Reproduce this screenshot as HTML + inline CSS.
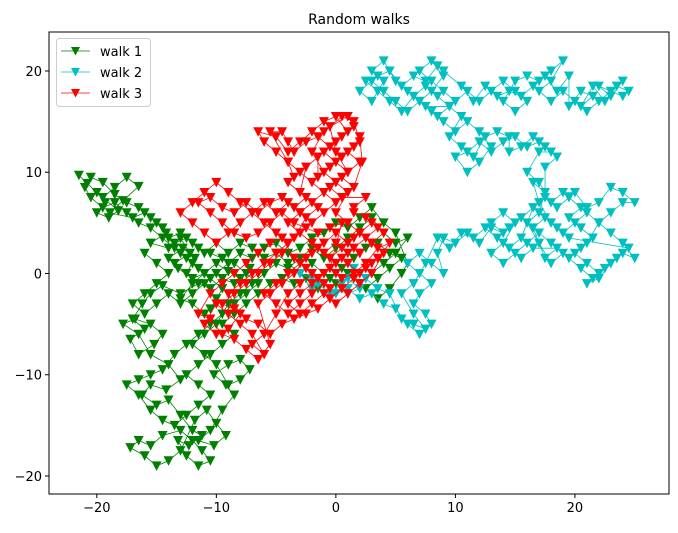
<!DOCTYPE html>
<html><head><meta charset="utf-8"><style>
body{margin:0;background:#fff;}
svg text{font-family:"DejaVu Sans","Liberation Sans",sans-serif;}
</style></head><body>
<svg id="chart" width="678" height="528" xmlns="http://www.w3.org/2000/svg">
<rect width="678" height="528" fill="#fff"/>
<text x="359" y="24" font-size="14" text-anchor="middle">Random walks</text>
<g id="plot"></g>
</svg>
<script>
const walk1 = [[-21.5,9.7],[-20.8,8.9],[-20,8],[-19.3,7],[-20,6],[-19,5.5],[-18.2,6.2],[-19.5,7.5],[-18.5,8.5],[-17.5,9.5],[-16.5,8.6],[-17.8,7.2],[-18.9,6],[-17,5.5],[-16,6],[-15,5],[-14.2,4],[-15.5,3],[-14,2.5],[-13,3.5],[-12.2,2],[-13.5,1],[-12.5,0],[-11.8,1.5],[-12.8,2.5],[-14,1.5],[-13.2,0.5],[-12,-0.5],[-11,0],[-10,1],[-9,0.2],[-8,-0.5],[-7.2,0.5],[-8.5,-1],[-9.5,-0.5],[-10.5,-1.5],[-11.5,-1],[-13,-2],[-14.5,-1.2],[-15.5,-2],[-16.2,-3],[-17,-4.5],[-16,-5.5],[-17.2,-6.5],[-16.5,-8],[-15.2,-7],[-14.5,-6],[-15.5,-5],[-16.8,-4.5],[-17.8,-5],[-16.5,-6],[-15.5,-8],[-14,-9],[-13,-10.5],[-14.2,-11.5],[-15.5,-11],[-16.2,-12],[-15,-13],[-14,-12.5],[-13,-14],[-12,-15.5],[-11.2,-16],[-12.3,-17],[-13.2,-16.5],[-12.5,-18],[-11.5,-19],[-10.5,-18.5],[-11.2,-17.5],[-12,-16.5],[-13,-15.5],[-14.5,-16],[-15.5,-17],[-16.5,-16.5],[-17.2,-17.2],[-16,-18],[-15,-19],[-14,-18.5],[-13,-17.5],[-11.8,-14.5],[-10.8,-13.5],[-10,-14.8],[-9.2,-16],[-10.2,-17],[-11.5,-16.5],[-10.5,-15.5],[-9.5,-13.5],[-8.5,-12],[-9.2,-11],[-10.2,-10],[-9,-9],[-8,-8.5],[-7.2,-9.5],[-8,-10.5],[-9,-11],[-10,-9],[-11,-8],[-12,-7],[-11,-6],[-10,-5],[-9,-3],[-8,-2],[-7,-1],[-6,0],[-5,1],[-4,0.5],[-3,1.5],[-2,2.5],[-1,1.5],[0,2.5],[1,3.5],[2,4.5],[3,5.5],[4,4],[5,3],[6,3.5],[5,2],[4,1],[3,0],[2,-1],[1,0],[0,-1],[-1,0],[-2,1],[-3,0],[-4,1],[-5,2],[-6,1.5],[-7,2.5],[-8,3],[-9,2],[-10,3],[-11,2],[-12,3],[-13,4],[-14,3.5],[-13,2],[-12,1],[-11,0],[-12,-1],[-13,-2.5],[-12,-3],[-11,-4],
[-10.5,-3.5],[-10,-2.5],[-9.5,-1.5],[-10.5,-0.5],[-11.5,0.5],[-12.5,1.5],[-13.5,2.5],[-14.5,3.5],[-15.5,4.5],[-16.5,5],[-17.5,6],[-18.5,7],[-19.5,6.5],[-20.5,7.5],[-21,8.5],[-20.5,9.5],[-19.5,9],[-18.5,7.8],[-17.5,7],[-16.5,6.5],[-15.5,5.5],[-14.5,4.5],[-13.5,3],[-12.5,3.5],[-11.5,2.5],[-10.5,2],[-9.5,1.5],[-8.5,1],[-7.5,0],[-6.5,-1],[-7.5,-2],[-8.5,-3],[-9.5,-4],[-10.5,-5],[-11.5,-6],[-12.5,-7],[-13.5,-8],[-14.5,-9.5],[-15.5,-10],[-16.5,-10.5],[-17.5,-11],[-16.5,-12],[-15.5,-13.5],[-14.5,-14.5],[-13.5,-15],[-12.5,-14],[-11.5,-13],[-10.5,-12],[-11.5,-11],[-12.5,-10],[-11.5,-9],[-10.5,-8],[-9.5,-7],[-8.5,-6],[-9.5,-5],[-8.5,-4],[-7.5,-3],[-6.5,-2],[-5.5,-1],[-4.5,-0.5],[-3.5,-1],[-2.5,-0.5],[-1.5,-1.5],[-0.5,-0.5],[0.5,0.5],[1.5,1.5],[2.5,2.5],[3.5,3],[4.5,2],[5.5,1.5],[4.5,0.5],[3.5,-0.5],[2.5,-1.5],[3.5,-2.5],[4.5,-1.5],[5.5,0],[6,1],[5,4],[4,5],[3,6.5],[2,5.5],[1,4.5],[0,5],[-1,4],[-2,3.5],[-3,2.5],[-4,2],[-5,3],[-6,2.5],[-7,1.5],[-8,2],[-9,1],[-10,0],[-11,-1],[-12,-2],[-13,-3],[-14,-2],[-15,-3],[-16,-4],[-17,-3],[-16,-2],[-15,-1],[-14,0],[-15,1],[-16,2]];
const walk2 = [[0,0],[1,-0.5],[2,-1.5],[1,-2],[-1,-1],[-2,-0.5],[-3,0],[-2,-1.5],[0,-2],[1,-1.5],[2,-2.5],[3,-2],[4,-3],[5,-3.5],[6,-5],[7,-6],[8,-5],[7.5,-4],[6.5,-3],[7,-2],[8,-1],[7,0],[6,1],[7,2],[8,1],[9,0],[8.5,2],[9,3.5],[10,3],[11,4],[12,3],[13,4.5],[14,4],[13,5],[14,6],[15,5],[14,3],[13,2],[14,1],[15,2],[16,3],[17,4],[18,3],[19,2],[18,1],[17,3],[16,5],[17,6],[17.5,8],[16.5,9],[17,7],[18,5],[19,4],[20,5],[21,6],[22,5],[21,3],[20,2],[21,1],[22,0],[21,-1],[22,-0.5],[23,1],[24,2],[25,1.5],[24,3],[23,4],[22,5],[23,6],[24,7],[25,7],[24,8],[23,8.5],[22,7],[21,6.5],[20,8],[19,8],[18,7],[17,9],[16,10],[17,12],[18,12],[17,13],[16,12.5],[15,13.5],[14,13],[13,12],[12,13],[11,12],[10,11.5],[11,10],[12,11],[13,12.5],[12,14],[11,15],[10,14],[9,15],[8,16],[7,17],[6,16],[5,17],[4,18],[3,19],[2,18],[3,17],[4,19],[3,20],[4,21],[5,19],[6,18],[7,17],[8,18],[9,19.5],[8,21],[7,20],[8,19],[9,18],[10,17],[11,18],[12,17],[13,18],[14,19],[15,18],[16,17],[15,16],[14,17],[15,19],[16,19.5],[17,19],[18,20],[19,21],[18,19],[17,18],[18,17],[19,18],[20,17],[21,16],[22,17],[23,18],[24,19],[23,17.5],[22,18.5],[24,17.5],
[24.5,18],[23.5,18.5],[22.5,17],[21.5,18.5],[20.5,16.5],[21.5,17.5],[20.5,18],[19.5,16.5],[19.5,19.5],[18.5,18],[17.5,19.5],[16.5,18.5],[15.5,17.5],[14.5,18],[13.5,17.5],[12.5,18.5],[11.5,17],[10.5,18.5],[9,20],[8.5,20.5],[7.5,19],[6.5,19.5],[5.5,18.5],[4.5,20],[3.5,19.5],[2.5,19],[3.5,18],[4.5,17],[5.5,16],[6.5,17.5],[7.5,18.5],[8.5,17.5],[9.5,16.5],[8.5,15.5],[7.5,16.5],[9.5,16.5],[10.5,15.5],[9.5,13.5],[10.5,12.5],[11.5,11.5],[12.5,13.5],[13.5,14],[14.5,13.5],[14.5,12],[15.5,12.5],[16.5,13.5],[17.5,12.5],[18.5,11.5],[17.5,10.5],[17.5,7.5],[18.5,6.5],[19.5,7.5],[20.5,6.5],[19.5,5.5],[20.5,4.5],[21.5,3.5],[20.5,2.5],[19.5,1.5],[20.5,0.5],[21.5,-0.5],[22.5,0.5],[23.5,1.5],[24.5,2.5],[19.5,3.5],[18.5,4.5],[17.5,5.5],[16.5,4.5],[17.5,1.5],[18.5,2.5],[16.5,2.5],[15.5,1.5],[14.5,2.5],[15.5,3.5],[16.5,6.5],[15.5,5.5],[14.5,4.5],[13.5,3.5],[12.5,4.5],[11.5,3.5],[10.5,4],[9.5,2.5],[8.5,3.5],[7.5,1],[6.5,-1],[5.5,-2],[6.5,-4],[7.5,-5.5],[6.5,-5],[5.5,-4.5],[4.5,-2],[3.5,-1.5],[2.5,-0.5],[1.5,0.5],[0.5,-1],[-0.5,-2],[-1.5,-1]];
const walk3 = [[0,0],[1,1],[2,2],[3,3],[4,4],[3,5],[2,4],[1,3],[0,4],[-1,3],[-2,2],[-3,1],[-4,0],[-5,-1],[-6,-2],[-5,-3],[-4,-4],[-3,-3],[-2,-2],[-1,-1],[-2,0],[-3,-1],[-4,-2],[-5,-4],[-6,-6],[-7,-7],[-6,-8],[-7,-6],[-8,-5],[-9,-4],[-10,-3],[-11,-5],[-10,-6],[-9,-5.5],[-8,-4],[-9,-2],[-8,-1],[-7,0],[-6,1],[-5,2],[-4,3],[-5,4],[-6,5],[-7,6],[-8,5],[-9,4],[-10,3],[-11,4],[-12,5],[-13,6],[-12,7],[-11,8],[-10,9],[-9,8],[-8,7],[-7,6],[-6,7],[-5,6],[-4,7],[-3,6],[-2,5],[-1,6],[0,7],[-1,8],[-2,9],[-3,10],[-4,11],[-5,12],[-6,13],[-6.5,14],[-5,13.5],[-4,12],[-3,13],[-2,14],[-1,15],[0,15.5],[1,14],[0,13],[-1,12],[0,11],[1,10],[2,11],[1,12],[2,13],[1.5,15],[0.5,15.5],[-1,14],[-2,12],[-1,10],[0,9],[1,8],[0,6],[1,5],[2,4],[3,3],[2,2],[1,1],[2,0],[3,1],[4,2],[3,0],[2,-1],[1,-2],[0,-3],[-1,-2],[-2,-3],[-3,-4],[-4,-3],[-3,-2],[-2,-1],[-1,0],[0,1],[1,2],[0,3],[-1,2],[-2,3],[-3,4],[-4,5],[-3,6],[-2,7],[-1,8],[0,9],[1,10],[0,12],
[-0.5,14.5],[1,15.5],[1.5,14.5],[0.5,13.5],[-0.5,12.5],[-1.5,13.5],[-2.5,13],[-3.5,12],[-4,13],[-4.5,14],[-5.5,14],[-4,11],[-3.5,9.5],[-4,9],[-3,8],[-2.5,10.5],[-1.5,11.5],[-1.5,9.5],[-0.5,10.5],[0.5,11.5],[1.5,12.5],[2,13.5],[2.2,11],[1.5,8.5],[0.5,9.5],[-0.5,8.5],[0.5,7.5],[2.5,7.5],[1.5,6.5],[1.5,6],[2.5,5.5],[3.5,4.5],[2.5,3.5],[1.5,2.5],[0.5,1.5],[-0.5,0.5],[0.5,5],[-0.5,4.5],[-1.5,4],[-2.5,4.5],[-3.5,5],[-4.5,6],[-5.5,5],[-6.5,4],[-7.5,3.5],[-8.5,4],[-9.5,5],[-10.5,6],[-11.5,7],[-10.5,7.5],[-9.5,6.5],[-8.5,6],[-7.5,7],[-6.5,6],[-5.5,7],[-4.5,7.5],[-3.5,6.5],[-2.5,7.5],[-1.5,6.5],[-2.5,5.5],[-3.5,3.5],[-4.5,2],[-5.5,1],[-6.5,0],[-7.5,-1],[-8.5,-2],[-9.5,-3],[-8.5,-3.5],[-7.5,-4.5],[-6.5,-5],[-5.5,-6],[-4.5,-5],[-3.5,-4.5],[-2.5,-4],[-1.5,-3.5],[-0.5,-2.5],[0.5,-1.5],[1.5,-0.5],[2.5,0.5],[3.5,1.5],[4.5,3],[3.5,2.5],[2.5,1],[1.5,0],[0.5,-0.5],[-0.5,-1.5],[-1.5,-0.5],[-2.5,0.5],[-3.5,1.5],[-4.5,3.5],[-5.5,3],[-6.5,2],[-7.5,1],[-8.5,0],[-9.5,-1],[-10.5,-2],[-11.5,-4],[-10.5,-4.5],[-9.5,-6],[-8.5,-6.5],[-7.5,-7.5],[-6.5,-8.5],[-5.5,-7],[-6.5,-3],[-5.5,-2],[-4.5,-1],[-3.5,0],[-2.5,1.5],[-1.5,2.5],[-0.5,1.5],[0.5,2.5],[1.5,3.5]];
const seriesNames = ["walk 1","walk 2","walk 3"];
const seriesColors = ["#008000","#00bfbf","#ff0000"];
const xTicks = [-20,-10,0,10,20];
const yTicks = [-20,-10,0,10,20];

const NS="http://www.w3.org/2000/svg";
const L=49,R=669,T=32,B=494;
const xMin=-24.0,xMax=27.87,yMin=-21.78,yMax=23.85;
const sx=v=>L+(v-xMin)/(xMax-xMin)*(R-L);
const sy=v=>B-(v-yMin)/(yMax-yMin)*(B-T);
const g=document.getElementById('plot');
function mk(tag,attrs,parent){const e=document.createElementNS(NS,tag);for(const k in attrs)e.setAttribute(k,attrs[k]);(parent||g).appendChild(e);return e;}

const walks=[walk1,walk2,walk3];
walks.forEach((w,i)=>{
  const grp=mk('g',{});
  
  
  const pl=mk('polyline',{points:w.map(p=>sx(p[0])+','+sy(p[1])).join(' '),fill:'none',stroke:seriesColors[i],'stroke-width':0.8},grp);
  
  
  w.forEach(p=>{
    const x=sx(p[0]),y=sy(p[1]);
    const m=mk('polygon',{points:`${x-5},${y-4.5} ${x+5},${y-4.5} ${x},${y+5}`,fill:seriesColors[i]},grp);
    
    
  });
});

const frame=mk('rect',{x:L,y:T,width:R-L,height:B-T,fill:'none',stroke:'#000','stroke-width':1});


xTicks.forEach(t=>{
  const x=sx(t);
  mk('line',{x1:x,x2:x,y1:B,y2:B+4,stroke:'#000'});
  const tx=mk('text',{x:x,y:B+18,'font-size':13,'text-anchor':'middle'});
  tx.textContent=(t<0?'\u2212'+(-t):t);
  
  
});
yTicks.forEach(t=>{
  const y=sy(t);
  mk('line',{x1:L-4,x2:L,y1:y,y2:y,stroke:'#000'});
  const tx=mk('text',{x:L-7,y:y+5,'font-size':13,'text-anchor':'end'});
  tx.textContent=(t<0?'\u2212'+(-t):t);
  
  
});

const lg=mk('g',{});


mk('rect',{x:56.5,y:38.5,width:94,height:68,rx:3,fill:'#fff','fill-opacity':0.8,stroke:'#ccc'},lg);
seriesNames.forEach((n,i)=>{
  const y=51+i*21;
  const e=mk('g',{},lg);
  
  
  mk('line',{x1:61,x2:90,y1:y,y2:y,stroke:seriesColors[i],'stroke-width':0.8},e);
  mk('polygon',{points:`${71},${y-4} ${80},${y-4} ${75.5},${y+4.5}`,fill:seriesColors[i]},e);
  const t=mk('text',{x:100,y:y+5,'font-size':13},e);
  t.textContent=n;
});
</script>
</body></html>
